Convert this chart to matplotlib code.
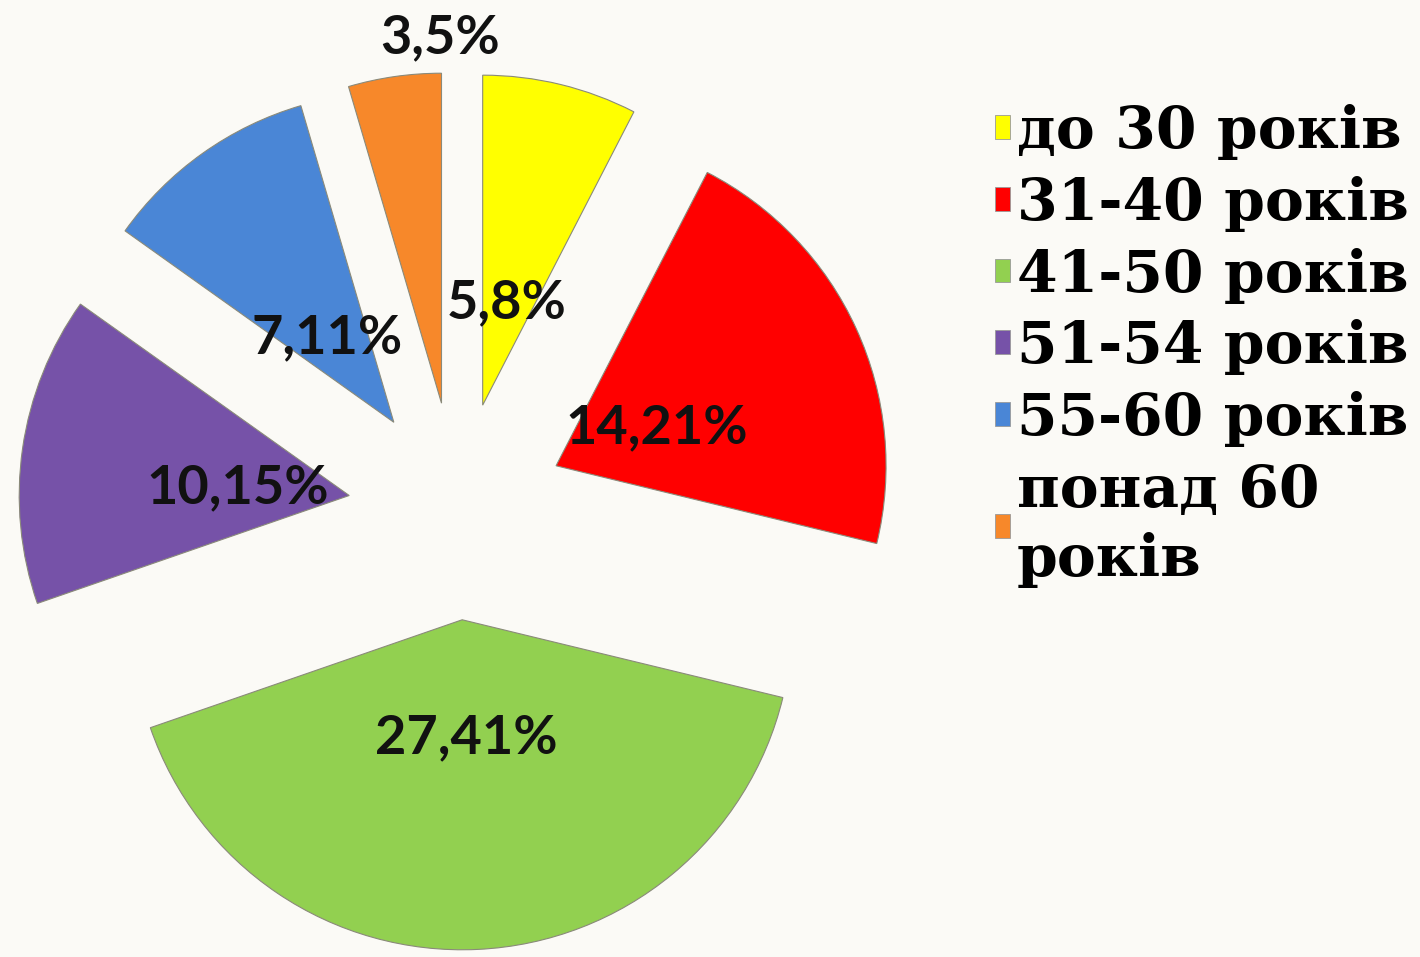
import matplotlib
matplotlib.use("Agg")
import matplotlib.pyplot as plt

categories = ["до 30 років", "31-40 років", "41-50 років", "51-54 років", "55-60 років", "понад 60\nроків"]
counts = [5, 14, 27, 10, 7, 3]
percents = [8, 21, 41, 15, 11, 5]
labels = ["5,8%", "14,21%", "27,41%", "10,15%", "7,11%", "3,5%"]
colors = ["#FFFF00", "#FF0000", "#92D050", "#7652A8", "#4A86D6", "#F7882A"]

W, H = 1420, 957
fig = plt.figure(figsize=(W / 100, H / 100), dpi=100)
fig.patch.set_facecolor("#FBFAF6")
ax = fig.add_axes([0, 0, 1, 1])
ax.set_facecolor("#FBFAF6")

R = 330.0
cx, cy = 457.0, 446.0

wedges, _ = ax.pie(counts, colors=colors, startangle=90, counterclock=False,
                   explode=[0.33] * len(counts),
                   wedgeprops=dict(edgecolor="#8a8a7a", linewidth=0.8))
ax.set_aspect("auto")
ax.set_xlim(-cx / R, (W - cx) / R)
ax.set_ylim(-cy / R, (H - cy) / R)
ax.axis("off")

label_px = [(507, 303), (657, 428), (466, 738), (238, 488), (327, 338), (440, 38)]
for (px, py), lab in zip(label_px, labels):
    ax.text((px - cx) / R, (H - py - cy) / R, lab, ha="center", va="center",
            fontsize=39, fontweight="bold", family=["Lato", "DejaVu Sans"], color="#111111")

leg = ax.legend(wedges, categories, loc="upper left", bbox_to_anchor=(995 / W, 1 - 104 / H),
                bbox_transform=fig.transFigure, frameon=False,
                prop=dict(family=["DejaVu Serif"], weight="bold", size=42),
                handlelength=0.25, handleheight=0.25, handletextpad=0.12,
                labelspacing=0.27, borderpad=0, borderaxespad=0)
for t in leg.get_texts():
    t.set_linespacing(1.3)
for h in leg.legend_handles:
    h.set_edgecolor("#999999")
    h.set_linewidth(0.6)

fig.savefig("out.png", dpi=100, facecolor=fig.get_facecolor())
